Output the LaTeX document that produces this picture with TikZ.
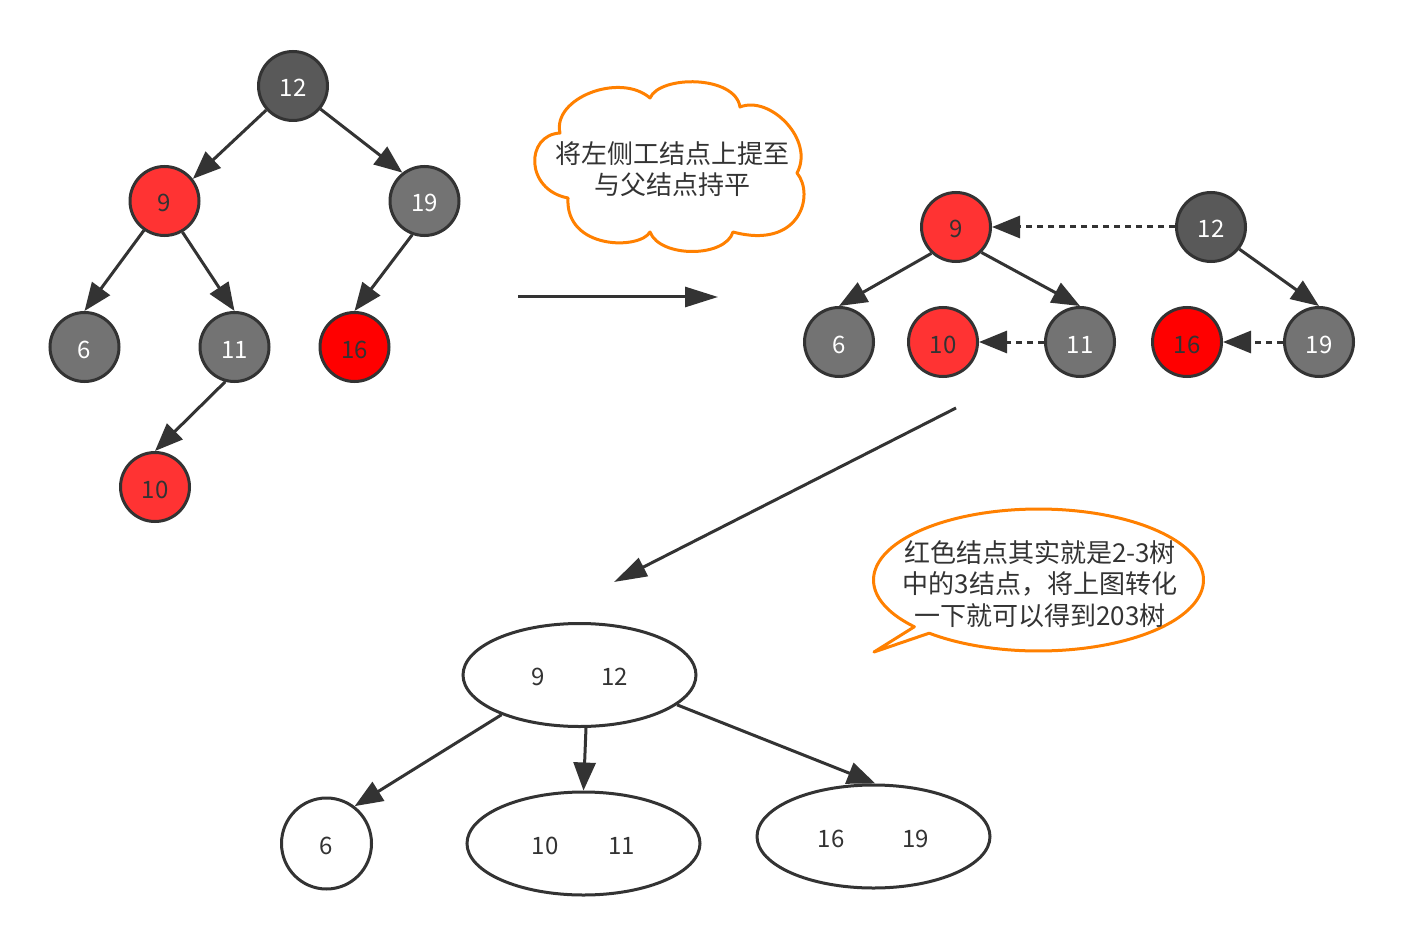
\documentclass[tikz,border=0pt]{standalone}
\usepackage{fontspec}
\newfontfamily\cjk{Noto Sans CJK SC}
\usetikzlibrary{arrows.meta,shapes.geometric}
\definecolor{ink}{HTML}{333333}
\definecolor{dkgray}{HTML}{595959}
\definecolor{midgray}{HTML}{737373}
\definecolor{redA}{HTML}{FF3333}
\definecolor{redB}{HTML}{FF0000}
\definecolor{orng}{HTML}{FF8000}
\begin{document}
\begin{tikzpicture}[x=1pt,y=-1pt,
  every node/.style={font=\cjk\fontsize{24pt}{29pt}\selectfont, text=ink},
  rb/.style={circle, draw=ink, line width=3pt, minimum size=69pt, inner sep=0pt, text height=22pt, text depth=0pt},
  dk/.style={rb, fill=dkgray, text=white},
  gy/.style={rb, fill=midgray, text=white},
  rd/.style={rb, fill=redA},
  rr/.style={rb, fill=redB},
  link/.style={draw=ink, line width=3pt, -{Triangle[length=28pt,width=22pt]}},
  dotlink/.style={link, dash pattern=on 6pt off 5pt},
  bigarrow/.style={draw=ink, line width=3pt, -{Triangle[length=33pt,width=20pt]}},
  ov/.style={ellipse, draw=ink, line width=3pt, inner sep=0pt, minimum width=233pt, minimum height=103pt, fill=white, text height=21pt, text depth=0pt},
  orangeline/.style={draw=orng, line width=3pt, fill=white, line join=round},
  note/.style={align=center, font=\cjk\fontsize{26pt}{31.5pt}\selectfont},
  ]
\fill[white] (0,0) rectangle (1404,949);
\useasboundingbox (0,0) rectangle (1404,949);

% left tree
\node[dk] (a12) at (293,86) {12};
\node[rd] (a9) at (164.5,201) {9};
\node[gy] (a19) at (424.5,201) {19};
\node[gy] (a6) at (84.5,347) {6};
\node[gy] (a11) at (234.5,347) {11};
\node[rr] (a16) at (354.5,347) {16};
\node[rd] (a10) at (155,487) {10};
\draw[link] (a12.222) -- (a9.38);
\draw[link] (a12.320) -- (a19.128);
\draw[link] (a9.235) -- (a6.north);
\draw[link] (a9.300) -- (a11.north);
\draw[link] (a11.255) -- (a10.north);
\draw[link] (a19.250) -- (a16.north);

% cloud
\draw[orangeline] (560,133) .. controls (552,98) and (620,72) .. (650,98)
  .. controls (660,75) and (735,75) .. (740,107)
  .. controls (770,95) and (815,140) .. (797,173)
  .. controls (815,195) and (800,250) .. (733,232)
  .. controls (725,258) and (660,258) .. (650,232)
  .. controls (640,250) and (565,250) .. (568,198)
  .. controls (525,190) and (525,135) .. (560,133) -- cycle;
\node[note] (cloudtxt) at (672,169) {将左侧工结点上提至\\与父结点持平};

% first big arrow
\coordinate (h1) at (518,297);
\coordinate (h2) at (718,297);
\draw[bigarrow] (h1) -- (h2);

% right tree
\node[rd] (b9) at (956,227) {9};
\node[dk] (b12) at (1211,227) {12};
\node[gy] (b6) at (839,342) {6};
\node[rd] (b10) at (943,342) {10};
\node[gy] (b11) at (1080,342) {11};
\node[rr] (b16) at (1187,342) {16};
\node[gy] (b19) at (1319,342) {19};
\draw[link] (b9.227) -- (b6.north);
\draw[link] (b9.315) -- (b11.north);
\draw[link] (b12.322) -- (b19.north);
\draw[dotlink] (b12.west) -- (b9.east);
\draw[dotlink] (b11.west) -- (b10.east);
\draw[dotlink] (b19.west) -- (b16.east);

% second big arrow
\coordinate (d1) at (956,408);
\coordinate (d2) at (614,582);
\draw[bigarrow] (d1) -- (d2);

% speech bubble
\draw[orangeline] plot[domain=138.8:491.5, samples=150] ({1038.5+165*cos(\x)},{580+71*sin(\x)}) -- (874,652) -- cycle;
\node[note] (bubtxt) at (1040,584) {红色结点其实就是2-3树\\中的3结点，将上图转化\\一下就可以得到203树};

% 2-3 tree
\node[ov] (t) at (579.5,675) {9\hspace{57pt}12};
\node[ellipse, draw=ink, line width=3pt, minimum width=90pt, minimum height=91pt, inner sep=0pt, text height=21pt, text depth=0pt] (c6) at (326.5,843.5) {6};
\node[ov] (c1011) at (583.5,843.5) {10\hspace{50pt}11};
\node[ov] (c1619) at (873.5,836.5) {16\hspace{58pt}19};
\draw[link] (t.-153) -- (c6.53);
\draw[link] (t.-83) -- (c1011.north);
\draw[link] (t.-17) -- (c1619.88);
\end{tikzpicture}
\end{document}
